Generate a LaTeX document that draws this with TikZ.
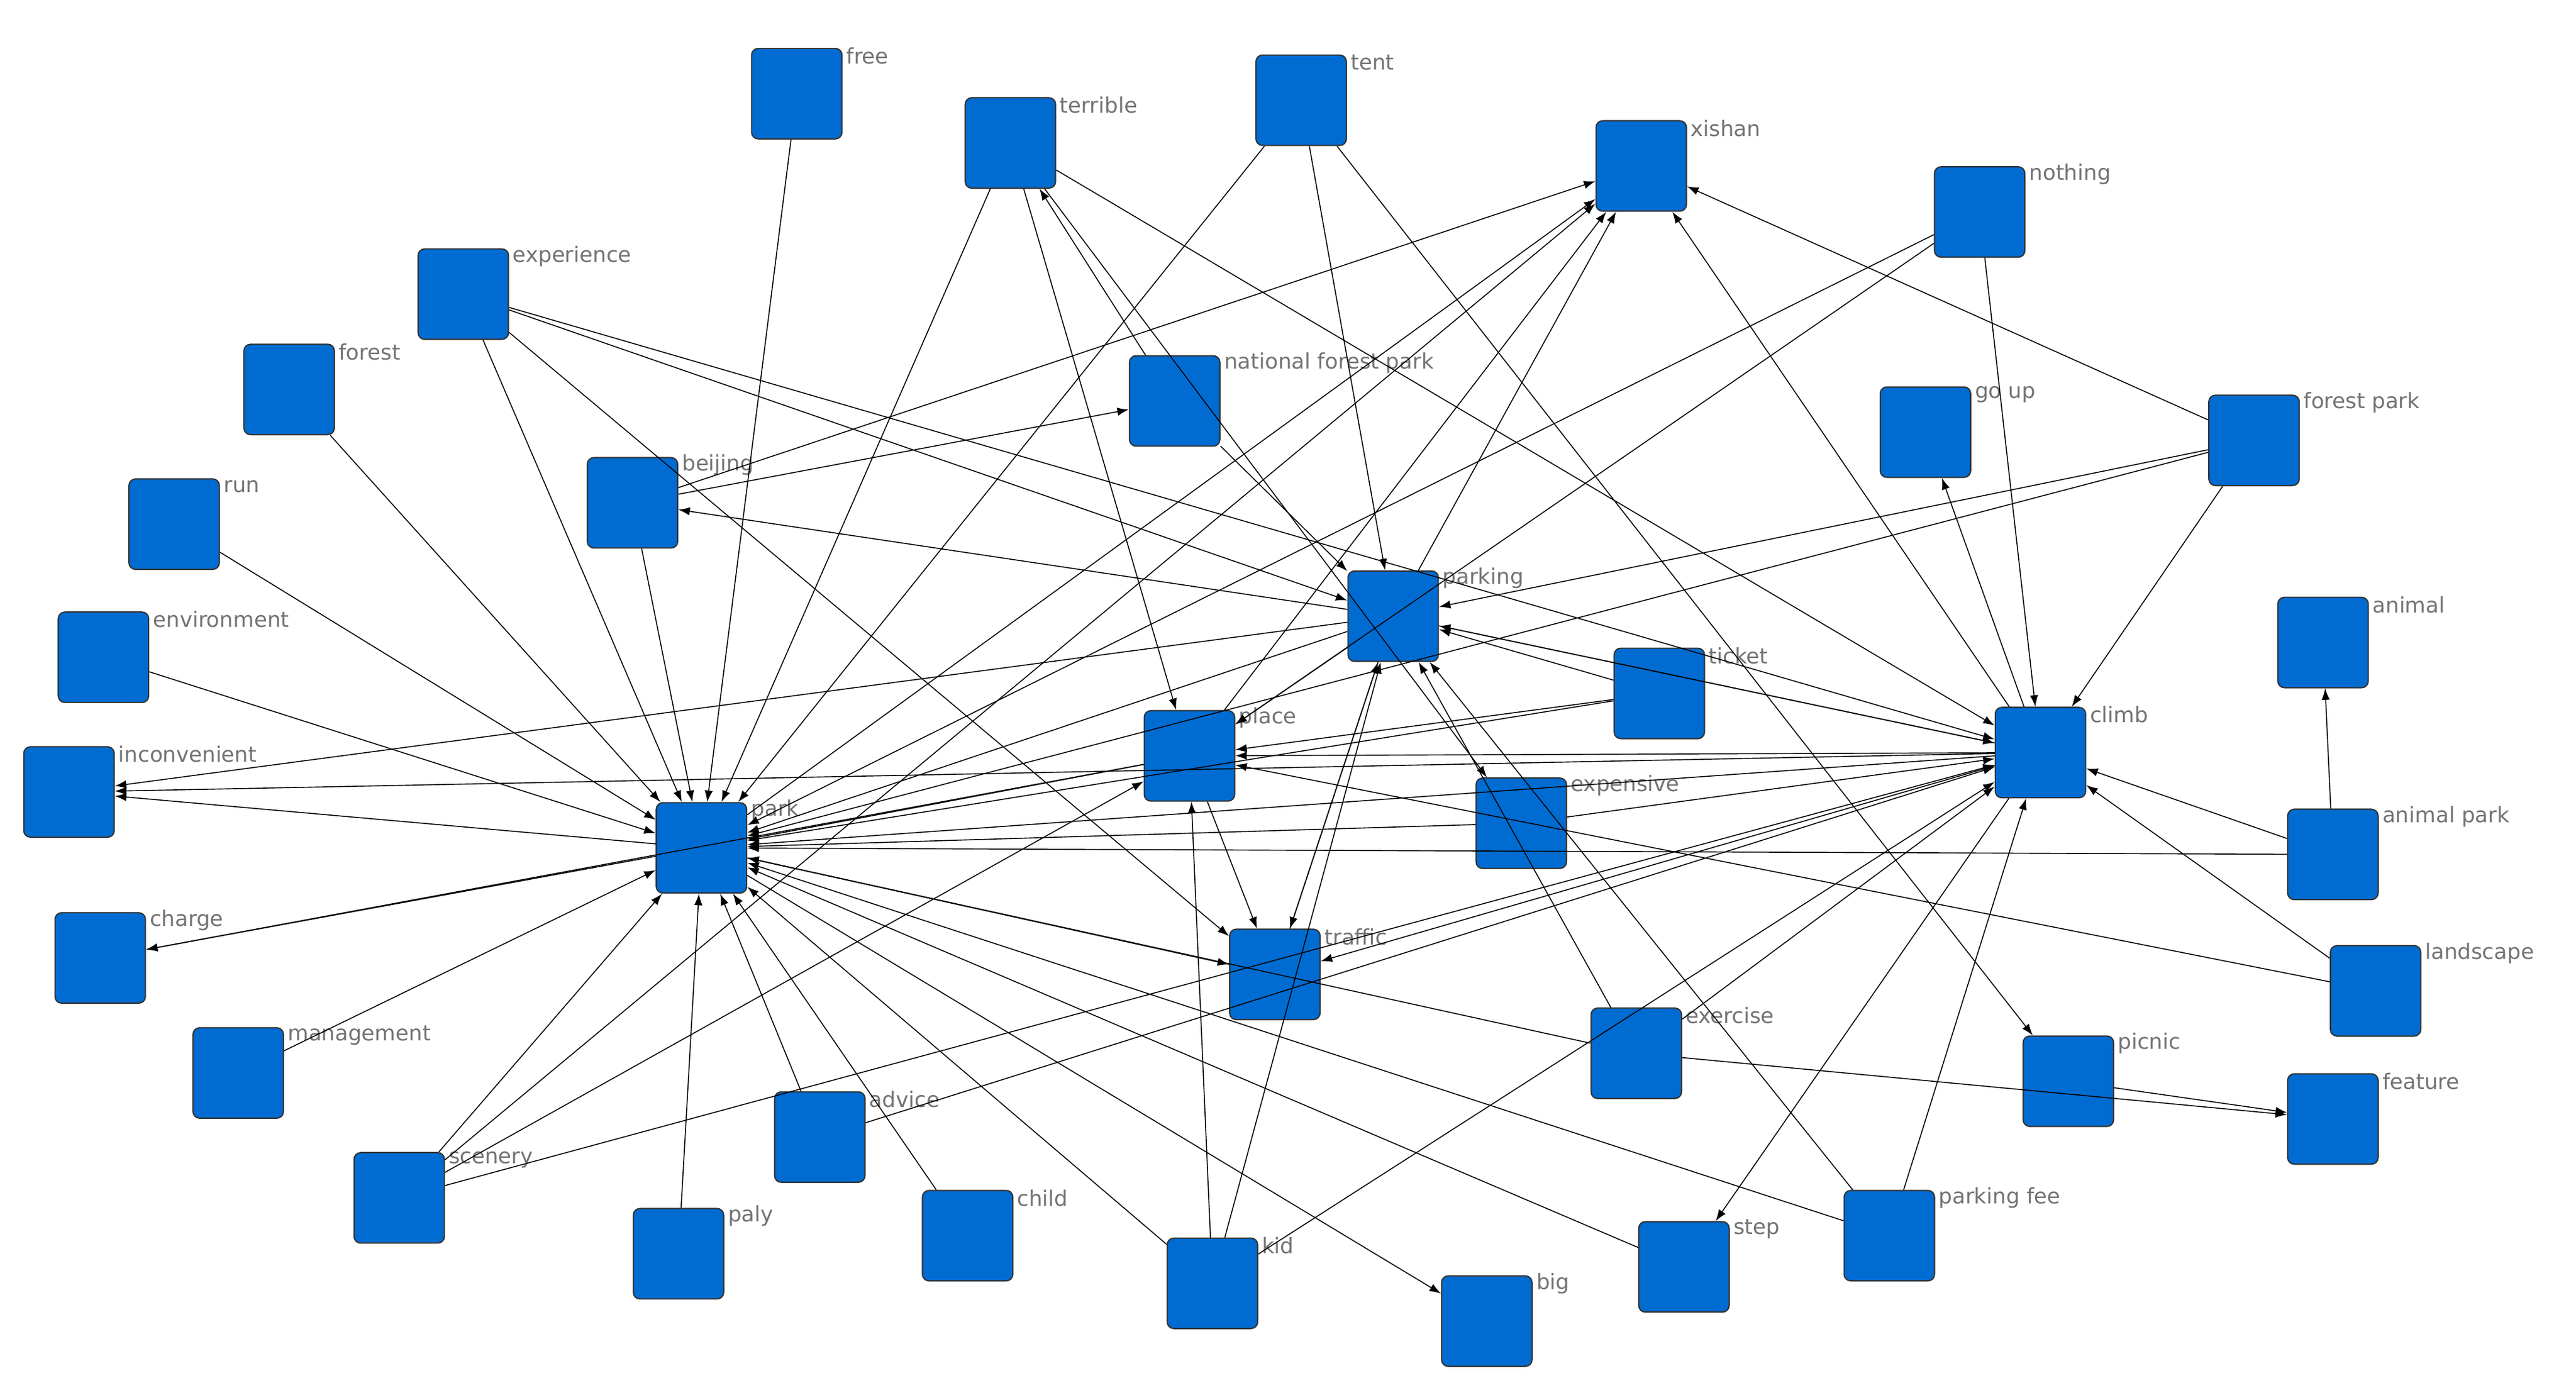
\documentclass[tikz,border=0pt]{standalone}
\usepackage{fontspec}
\setmainfont{DejaVu Sans}
\usetikzlibrary{arrows.meta}
\definecolor{nb}{RGB}{0,108,210}
\begin{document}
\begin{tikzpicture}[x=1pt,y=-1pt,
  n/.style={draw=black!80,line width=0.8pt,fill=nb,rounded corners=4pt,minimum size=55pt,inner sep=0pt},
  l/.style={text=black!55,font=\fontsize{13}{13}\selectfont,anchor=west,inner sep=1pt},
  e/.style={-{Latex[length=7pt,width=5pt]},line width=0.6pt}]
\useasboundingbox (0,0) rectangle (1568,852);
\fill[white] (0,0) rectangle (1568,852);
\foreach \nm/\x/\y/\t in {
 free/485/57/free, terrible/615/87/terrible, tent/792/61/tent, xishan/999/101/xishan,
 nothing/1205/129/nothing, experience/282/179/experience, forest/176/237/forest,
 nfp/715/244/national forest park, goup/1172/263/go up, forestpark/1372/268/forest park,
 beijing/385/306/beijing, run/106/319/run, parking/848/375/parking, animal/1414/391/animal,
 environment/63/400/environment, ticket/1010/422/ticket, climb/1242/458/climb,
 place/724/460/place, inconvenient/42/482/inconvenient, park/427/516/park,
 expensive/926/501/expensive, animalpark/1420/520/animal park, charge/61/583/charge,
 traffic/776/593/traffic, landscape/1446/603/landscape, exercise/996/641/exercise,
 management/145/653/management, picnic/1259/658/picnic, feature/1420/681/feature,
 advice/499/692/advice, scenery/243/729/scenery, child/589/752/child, paly/413/763/paly,
 kid/738/781/kid, step/1025/771/step, parkingfee/1150/752/parking fee, big/905/804/big}
{ \node[n] (\nm) at (\x,\y) {}; }
\foreach \nm/\x/\y/\t in {
 free/485/57/free, terrible/615/87/terrible, tent/792/61/tent, xishan/999/101/xishan,
 nothing/1205/129/nothing, experience/282/179/experience, forest/176/237/forest,
 nfp/715/244/national forest park, goup/1172/263/go up, forestpark/1372/268/forest park,
 beijing/385/306/beijing, run/106/319/run, parking/848/375/parking, animal/1414/391/animal,
 environment/63/400/environment, ticket/1010/422/ticket, climb/1242/458/climb,
 place/724/460/place, inconvenient/42/482/inconvenient, park/427/516/park,
 expensive/926/501/expensive, animalpark/1420/520/animal park, charge/61/583/charge,
 traffic/776/593/traffic, landscape/1446/603/landscape, exercise/996/641/exercise,
 management/145/653/management, picnic/1259/658/picnic, feature/1420/681/feature,
 advice/499/692/advice, scenery/243/729/scenery, child/589/752/child, paly/413/763/paly,
 kid/738/781/kid, step/1025/771/step, parkingfee/1150/752/parking fee, big/905/804/big}
{ \node[l] (\nm-l) at (\x+29,\y-23) {\t}; }
\foreach \a/\b in {free/park, terrible/park, terrible/place, terrible/climb, terrible/expensive,
 tent/park, tent/parking, tent/picnic, park/xishan, place/xishan, beijing/xishan, parking/xishan,
 climb/xishan, forestpark/xishan, scenery/xishan, nothing/climb, nothing/park, nothing/place,
 experience/park, experience/parking, experience/climb, experience/traffic, forest/park,
 nfp/parking, nfp/terrible, beijing/nfp, climb/goup, forestpark/climb, forestpark/parking,
 forestpark/park, parking/beijing, beijing/park, run/park, parking/place, parking/traffic,
 traffic/parking, parking/park, parking/climb, climb/parking, animalpark/animal, environment/park,
 ticket/parking, ticket/place, ticket/park, climb/park, climb/place, climb/traffic, climb/step,
 climb/inconvenient, place/park, place/traffic, park/inconvenient, parking/inconvenient,
 expensive/park, expensive/climb, animalpark/climb, animalpark/park, park/charge, place/charge,
 traffic/park, park/traffic, landscape/climb, landscape/place, exercise/parking, exercise/climb,
 exercise/feature, exercise/park, picnic/feature, advice/park, advice/climb, scenery/park,
 scenery/place, scenery/climb, paly/park, child/park, kid/park, kid/place, kid/parking, kid/climb,
 step/park, parkingfee/climb, parkingfee/park, parkingfee/parking, park/big, management/park}
{ \draw[e] (\a) -- (\b); }
\end{tikzpicture}
\end{document}
